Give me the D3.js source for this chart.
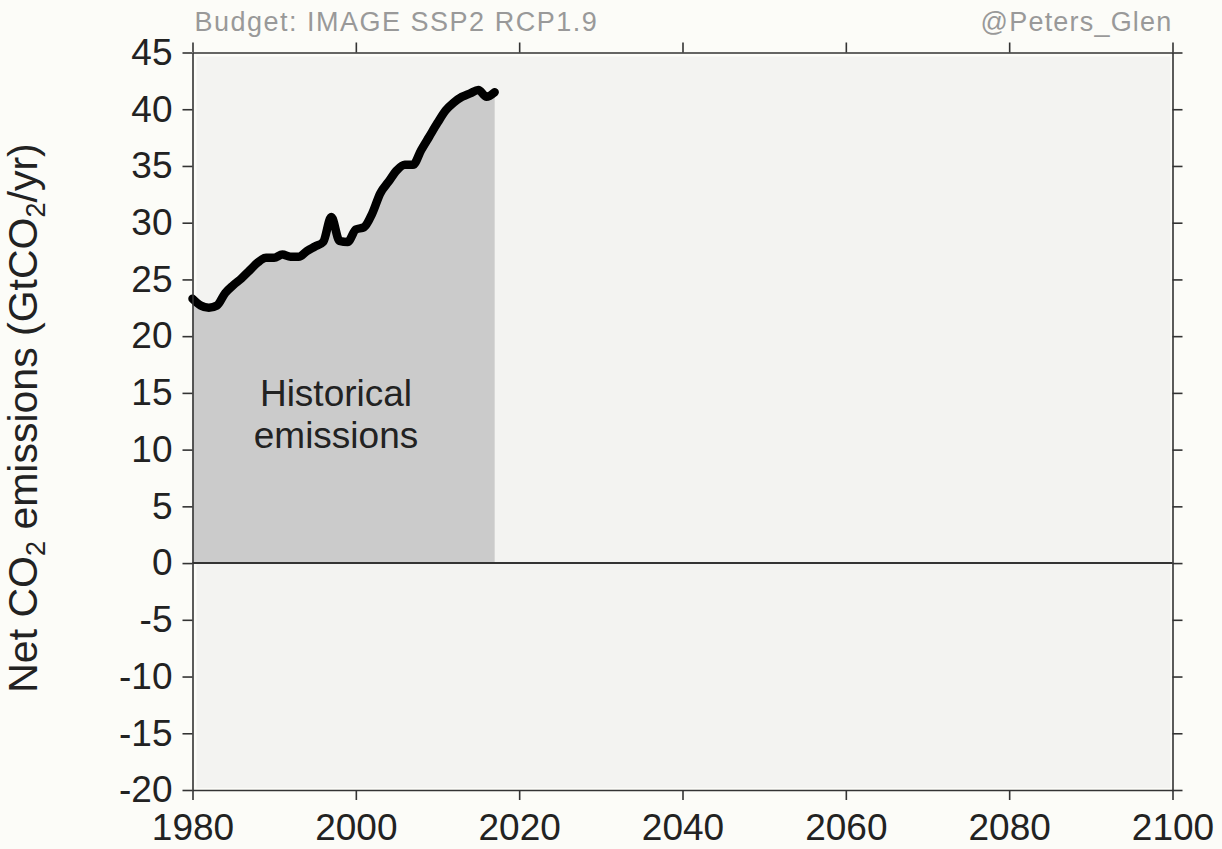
<!DOCTYPE html>
<html>
<head>
<meta charset="utf-8">
<script src="https://cdn.jsdelivr.net/npm/d3@7/dist/d3.min.js"></script>
<style>
    body { margin: 0; background: #fcfcf8; }
    svg { display: block; font-family: "Liberation Sans", Arial, Helvetica, sans-serif; }
</style>
</head>
<body>
<div id="chart"></div>
<script>

// historical net CO2 emissions
const years = [1980, 1981, 1982, 1983, 1984, 1985, 1986, 1987, 1988, 1989,
               1990, 1991, 1992, 1993, 1994, 1995, 1996, 1997, 1998, 1999,
               2000, 2001, 2002, 2003, 2004, 2005, 2006, 2007, 2008, 2009,
               2010, 2011, 2012, 2013, 2014, 2015, 2016, 2017];
const emissions = [23.3, 22.7, 22.5, 22.7, 23.8, 24.5, 25.1, 25.8, 26.5, 26.9,
                   26.9, 27.2, 27.0, 27.0, 27.5, 27.9, 28.3, 30.5, 28.4, 28.3,
                   29.4, 29.6, 30.8, 32.6, 33.6, 34.6, 35.1, 35.1, 36.4, 37.6,
                   38.8, 39.9, 40.6, 41.1, 41.4, 41.7, 41.1, 41.5];

const xTicks = [1980, 2000, 2020, 2040, 2060, 2080, 2100];
const yTicks = [-20, -15, -10, -5, 0, 5, 10, 15, 20, 25, 30, 35, 40, 45];

const titleLeft = "Budget: IMAGE SSP2 RCP1.9";
const titleRight = "@Peters_Glen";
const areaLabel = ["Historical", "emissions"];

let width = 1222, height = 849;
let margin = {top: 52.5, right: 49.5, bottom: 59, left: 192.5};

let svg = d3.select("#chart")
    .append("svg")
    .attr("width", width)
    .attr("height", height);

let x = d3.scaleLinear()
    .domain([1980, 2100])
    .range([margin.left, width - margin.right]);

let y = d3.scaleLinear()
    .domain([-20, 45])
    .range([height - margin.bottom, margin.top]);

let data = years.map((yr, i) => ({year: yr, value: emissions[i]}));

// plot background
svg.append("rect")
    .attr("x", x(1980) + 4)
    .attr("y", y(45) + 4)
    .attr("width", x(2100) - x(1980) - 6)
    .attr("height", y(-20) - y(45) - 6)
    .attr("fill", "#f3f3f1");

// historical area
let area = d3.area()
    .x(d => x(d.year))
    .y0(y(0))
    .y1(d => y(d.value));

svg.append("path")
    .datum(data)
    .attr("d", area)
    .attr("fill", "#cbcbcb");

// zero line
svg.append("line")
    .attr("x1", x(1980))
    .attr("x2", x(2100))
    .attr("y1", y(0))
    .attr("y2", y(0))
    .attr("stroke", "#333")
    .attr("stroke-width", 2);

// historical line
let line = d3.line()
    .x(d => x(d.year))
    .y(d => y(d.value))
    .curve(d3.curveMonotoneX);

svg.append("path")
    .datum(data)
    .attr("d", line)
    .attr("fill", "none")
    .attr("stroke", "#000")
    .attr("stroke-width", 8.5)
    .attr("stroke-linejoin", "round")
    .attr("stroke-linecap", "round");

// label inside the area
let lbl = svg.append("text")
    .attr("text-anchor", "middle")
    .attr("font-size", 37)
    .attr("fill", "#222");
areaLabel.forEach((t, i) => {
    lbl.append("tspan")
        .attr("x", 336)
        .attr("y", 406 + i * 42)
        .text(t);
});

// axes
function styleAxis(g) {
    g.select(".domain").attr("stroke", "#333").attr("stroke-width", 1.6);
    g.selectAll(".tick line").attr("stroke", "#333").attr("stroke-width", 1.6);
    g.selectAll(".tick text").attr("fill", "#222").attr("font-size", 37);
}

svg.append("g")
    .attr("transform", `translate(0,${y(-20)})`)
    .call(d3.axisBottom(x).tickValues(xTicks).tickFormat(d => String(d))
        .tickSize(10).tickSizeOuter(0).tickPadding(14))
    .call(styleAxis)
    .attr("font-family", null);

svg.append("g")
    .attr("transform", `translate(0,${y(45)})`)
    .call(d3.axisTop(x).tickValues(xTicks).tickFormat("")
        .tickSize(10).tickSizeOuter(0))
    .call(styleAxis);

svg.append("g")
    .attr("transform", `translate(${x(1980)},0)`)
    .call(d3.axisLeft(y).tickValues(yTicks).tickFormat(d => String(d))
        .tickSize(10).tickSizeOuter(0).tickPadding(10))
    .call(styleAxis)
    .attr("font-family", null);

svg.append("g")
    .attr("transform", `translate(${x(2100)},0)`)
    .call(d3.axisRight(y).tickValues(yTicks).tickFormat("")
        .tickSize(10).tickSizeOuter(0))
    .call(styleAxis);

// y axis title with subscripts
let yTitle = svg.append("text")
    .attr("transform", "translate(37,418) rotate(-90)")
    .attr("text-anchor", "middle")
    .attr("font-size", 41)
    .attr("fill", "#222");
yTitle.append("tspan").text("Net CO");
yTitle.append("tspan").attr("font-size", 27).attr("dy", 8).text("2");
yTitle.append("tspan").attr("dy", -8).text(" emissions (GtCO");
yTitle.append("tspan").attr("font-size", 27).attr("dy", 8).text("2");
yTitle.append("tspan").attr("dy", -8).text("/yr)");

// top captions
svg.append("text")
    .attr("x", x(1980) + 2)
    .attr("y", 31)
    .attr("font-size", 27)
    .attr("letter-spacing", 1.5)
    .attr("fill", "#999")
    .text(titleLeft);

svg.append("text")
    .attr("x", x(2100))
    .attr("y", 31)
    .attr("text-anchor", "end")
    .attr("font-size", 27)
    .attr("letter-spacing", 1.2)
    .attr("fill", "#999")
    .text(titleRight);

</script>
</body>
</html>
